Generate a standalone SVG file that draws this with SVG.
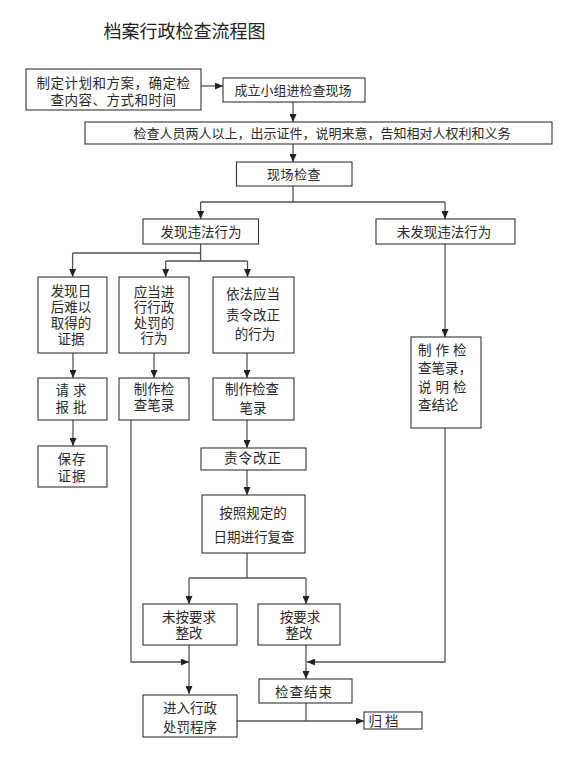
<svg xmlns="http://www.w3.org/2000/svg" width="575" height="775" viewBox="0 0 575 775">
<defs>
<marker id="arr" markerUnits="userSpaceOnUse" markerWidth="8" markerHeight="7" refX="8" refY="3.5" orient="auto">
<path d="M0,0 L8,3.5 L0,7 z" fill="#222"/>
</marker>
<style>
.b{fill:#fff;stroke:#333;stroke-width:1.1}
.t{font-family:"Liberation Sans","Noto Sans CJK SC",sans-serif;font-size:13px;fill:#2a2a2a;text-anchor:middle}
.t14{font-size:13.5px}
.s{text-anchor:start}
.l{fill:none;stroke:#555;stroke-width:1.3}
.a{marker-end:url(#arr)}
</style>
</defs>
<rect width="575" height="775" fill="#fff"/>
<text x="184.5" y="38" style="font-family:'Liberation Sans','Noto Sans CJK SC',sans-serif;font-size:18px;fill:#222;text-anchor:middle">档案行政检查流程图</text>

<g id="connectors">
<path class="l a" d="M201,86 H223"/>
<path class="l a" d="M293,102 V122"/>
<path class="l a" d="M293,144 V162"/>
<path class="l" d="M293,186 V202 M200.6,202 H445"/>
<path class="l a" d="M200.6,202 V219"/>
<path class="l a" d="M445,202 V219"/>
<path class="l" d="M200.6,244 V261 M72.6,253 H200.6 M165.7,261 H247.5"/>
<path class="l a" d="M72.6,253 V277"/>
<path class="l a" d="M165.7,261 V277"/>
<path class="l a" d="M247.5,261 V277"/>
<path class="l a" d="M73,353 V378"/>
<path class="l a" d="M73,420 V446"/>
<path class="l a" d="M154,353 V378"/>
<path class="l a" d="M247,353 V378"/>
<path class="l a" d="M247,420 V448"/>
<path class="l a" d="M247,470 V495"/>
<path class="l" d="M247,553 V578 M189,578 H306"/>
<path class="l a" d="M189,578 V604"/>
<path class="l a" d="M306,578 V604"/>
<path class="l a" d="M131,420 V662 H189"/>
<path class="l a" d="M189,645 V694"/>
<path class="l a" d="M306,645 V679"/>
<path class="l a" d="M445,244 V337"/>
<path class="l a" d="M445,428 V662 H307"/>
<path class="l" d="M306,703 V721"/>
<path class="l a" d="M237,721 H364"/>
</g>

<g id="n1"><rect class="b" x="26" y="69" width="175" height="41"/>
<text class="t" style="font-size:13.5px;letter-spacing:0.5px"><tspan x="113.5" y="88">制定计划和方案，确定检</tspan><tspan x="113.5" y="105">查内容、方式和时间</tspan></text></g>

<g id="n2"><rect class="b" x="223" y="78" width="142" height="24"/>
<text class="t" x="293" y="95">成立小组进检查现场</text></g>

<g id="n3"><rect class="b" x="85" y="122" width="467" height="22"/>
<text class="t" x="322" y="138">检查人员两人以上，出示证件，说明来意，告知相对人权利和义务</text></g>

<g id="n4"><rect class="b" x="236.5" y="162" width="115.5" height="24"/>
<text class="t" x="294" y="179" style="letter-spacing:0.5px">现场检查</text></g>

<g id="n5"><rect class="b" x="143" y="219" width="115.5" height="25"/>
<text class="t t14" x="201" y="237">发现违法行为</text></g>

<g id="n6"><rect class="b" x="376" y="219" width="139" height="25"/>
<text class="t t14" x="444" y="237">未发现违法行为</text></g>

<g id="n7"><rect class="b" x="38" y="277" width="69" height="76"/>
<text class="t t14"><tspan x="71" y="296">发现日</tspan><tspan x="71" y="312">后难以</tspan><tspan x="71" y="328">取得的</tspan><tspan x="71" y="344">证据</tspan></text></g>

<g id="n8"><rect class="b" x="119" y="277" width="70" height="76"/>
<text class="t t14"><tspan x="154" y="297">应当进</tspan><tspan x="154" y="312">行行政</tspan><tspan x="154" y="328">处罚的</tspan><tspan x="154" y="343">行为</tspan></text></g>

<g id="n9"><rect class="b" x="213" y="277" width="81" height="76"/>
<text class="t t14"><tspan x="253" y="299">依法应当</tspan><tspan x="253" y="320">责令改正</tspan><tspan x="255" y="339">的行为</tspan></text></g>

<g id="n10"><rect class="b" x="38" y="378" width="69" height="42"/>
<text class="t t14" style="letter-spacing:4px"><tspan x="73" y="395">请求</tspan><tspan x="73" y="412">报批</tspan></text></g>

<g id="n11"><rect class="b" x="119" y="378" width="70" height="42"/>
<text class="t t14"><tspan x="154" y="394">制作检</tspan><tspan x="154" y="410">查笔录</tspan></text></g>

<g id="n12"><rect class="b" x="213" y="378" width="81" height="42"/>
<text class="t t14"><tspan x="252" y="394">制作检查</tspan><tspan x="253" y="413">笔录</tspan></text></g>

<g id="n13"><rect class="b" x="38" y="446" width="69" height="41"/>
<text class="t t14" style="letter-spacing:1px"><tspan x="72" y="464">保存</tspan><tspan x="72" y="481">证据</tspan></text></g>

<g id="n14"><rect class="b" x="201" y="448" width="105" height="22"/>
<text class="t t14" x="253" y="463" style="letter-spacing:1px">责令改正</text></g>

<g id="n15"><rect class="b" x="202" y="495" width="103" height="58"/>
<text class="t t14"><tspan x="253" y="518">按照规定的</tspan><tspan x="254" y="542">日期进行复查</tspan></text></g>

<g id="n16"><rect class="b" x="411" y="337" width="70" height="91"/>
<text class="t t14 s"><tspan x="418" y="355" style="letter-spacing:4px">制作检</tspan><tspan x="418" y="373">查笔录，</tspan><tspan x="418" y="392" style="letter-spacing:4px">说明检</tspan><tspan x="418" y="410">查结论</tspan></text></g>

<g id="n17"><rect class="b" x="143" y="604" width="94" height="41"/>
<text class="t t14"><tspan x="189" y="622">未按要求</tspan><tspan x="189" y="638">整改</tspan></text></g>

<g id="n18"><rect class="b" x="258" y="604" width="82" height="41"/>
<text class="t t14"><tspan x="300" y="622">按要求</tspan><tspan x="299" y="638">整改</tspan></text></g>

<g id="n19"><rect class="b" x="259" y="679" width="93" height="24"/>
<text class="t t14" x="304" y="697" style="letter-spacing:1px">检查结束</text></g>

<g id="n20"><rect class="b" x="143" y="695" width="94" height="42"/>
<text class="t t14"><tspan x="190" y="713">进入行政</tspan><tspan x="190" y="732">处罚程序</tspan></text></g>

<g id="n21"><rect class="b" x="364" y="712" width="58" height="17"/>
<text class="t t14" x="385" y="726" style="letter-spacing:3px">归档</text></g>
</svg>
